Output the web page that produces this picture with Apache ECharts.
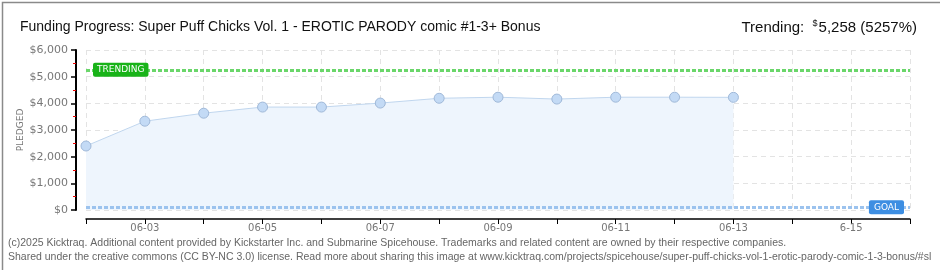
<!DOCTYPE html>
<html>
<head>
<meta charset="utf-8">
<script src="https://cdn.jsdelivr.net/npm/echarts@6/dist/echarts.min.js"></script>
<style>
  html, body { margin: 0; padding: 0; background: #fff; }
  #chart { width: 940px; height: 270px; }
</style>
</head>
<body>
<div id="chart"></div>
<script>
// dates on the x axis
const days = ['06-02', '06-03', '06-04', '06-05', '06-06', '06-07', '06-08', '06-09',
  '06-10', '06-11', '06-12', '06-13', '06-14', '6-15', '06-16']
// pledged amount per day (null = not yet)
const pledged = [2400, 3330, 3630, 3860, 3860, 4010, 4190, 4230, 4160, 4230, 4230, 4225,
  null, null, null]
const trending = 5258
const goal = 100
const yTicks = [0, 1000, 2000, 3000, 4000, 5000, 6000]

const chart = echarts.init(document.getElementById('chart'))

const options = {
  animation: false,
  textStyle: { fontFamily: 'DejaVu Sans' },
  title: [
    {
      text: 'Funding Progress: Super Puff Chicks Vol. 1 - EROTIC PARODY comic #1-3+ Bonus',
      left: 15,
      top: 15,
      textStyle: { fontFamily: 'Liberation Sans', fontSize: 14, fontWeight: 'normal', color: '#111' }
    },
    {
      text: 'Trending:  {s|$}5,258 (5257%)',
      right: 18,
      top: 14,
      textStyle: {
        fontFamily: 'Liberation Sans', fontSize: 15, fontWeight: 'normal', color: '#111',
        rich: { s: { fontSize: 9, verticalAlign: 'top', color: '#111', padding: [0, 1, 8, 0] } }
      }
    }
  ],
  grid: { left: 86, right: 30, top: 50, bottom: 60 },
  xAxis: {
    type: 'category',
    data: days,
    boundaryGap: false,
    offset: 9,
    axisLine: { onZero: false, lineStyle: { color: '#000', width: 1.5 } },
    axisTick: { show: true, interval: 0, length: 5, lineStyle: { color: '#000' } },
    axisLabel: {
      interval: (i) => i % 2 === 1,
      color: '#777',
      fontSize: 10,
      margin: 4
    },
    splitLine: { show: true, interval: 0, lineStyle: { color: '#e3e3e3', type: [5, 4] } }
  },
  yAxis: {
    type: 'value',
    min: yTicks[0],
    max: yTicks[yTicks.length - 1],
    interval: 1000,
    offset: 10,
    name: 'PLEDGED',
    nameLocation: 'middle',
    nameGap: 51,
    nameMoveOverlap: false,
    nameTextStyle: { color: '#777', fontSize: 9 },
    axisLine: { show: true, onZero: false, lineStyle: { color: '#000', width: 2 } },
    axisTick: { show: true, inside: false, length: 5, lineStyle: { color: '#000', width: 1.5 } },
    minorTick: { show: true, splitNumber: 2, length: 3, lineStyle: { color: '#e00' } },
    axisLabel: {
      color: '#777',
      fontSize: 11,
      margin: 8,
      formatter: (v) => '$' + v.toLocaleString('en-US')
    },
    splitLine: { show: true, lineStyle: { color: '#e3e3e3', type: [5, 4] } }
  },
  series: [
    {
      type: 'line',
      data: pledged,
      symbol: 'circle',
      symbolSize: 10,
      itemStyle: { color: '#c3daf5', borderColor: '#9fb8d8', borderWidth: 1 },
      lineStyle: { color: '#c0d6ee', width: 1 },
      areaStyle: { color: '#eef5fd', opacity: 1 },
      markLine: {
        silent: true,
        symbol: 'none',
        data: [
          {
            yAxis: trending,
            lineStyle: { color: '#6ad66a', width: 3, type: [4, 2] },
            label: {
              show: true,
              formatter: 'TRENDING',
              position: 'insideStartTop',
              distance: [7, 0],
              verticalAlign: 'middle',
              color: '#fff',
              fontSize: 9,
              backgroundColor: '#19b319',
              padding: [3, 4, 2, 4],
              borderRadius: 2
            }
          },
          {
            yAxis: goal,
            lineStyle: { color: '#9cc3ee', width: 3, type: [4, 2] },
            label: {
              show: true,
              formatter: 'GOAL',
              position: 'insideEndTop',
              distance: [6, 0],
              verticalAlign: 'middle',
              color: '#fff',
              fontSize: 9,
              backgroundColor: '#3d8ee2',
              padding: [3, 5, 2, 5],
              borderRadius: 2
            }
          }
        ]
      }
    }
  ],
  graphic: [
    {
      type: 'text',
      left: 8,
      top: 236,
      style: {
        text: '(c)2025 Kicktraq. Additional content provided by Kickstarter Inc. and Submarine Spicehouse. Trademarks and related content are owned by their respective companies.\nShared under the creative commons (CC BY-NC 3.0) license. Read more about sharing this image at www.kicktraq.com/projects/spicehouse/super-puff-chicks-vol-1-erotic-parody-comic-1-3-bonus/#sl',
        fontFamily: 'Liberation Sans',
        fontSize: 10.5,
        lineHeight: 14,
        fill: '#666'
      }
    },
    {
      type: 'rect',
      left: 0,
      top: 0,
      shape: { x: 0.5, y: 0.5, width: 939, height: 269 },
      style: { fill: 'none', stroke: '#8a8a8a', lineWidth: 1.5 }
    }
  ]
}

chart.setOption(options)
</script>
</body>
</html>
